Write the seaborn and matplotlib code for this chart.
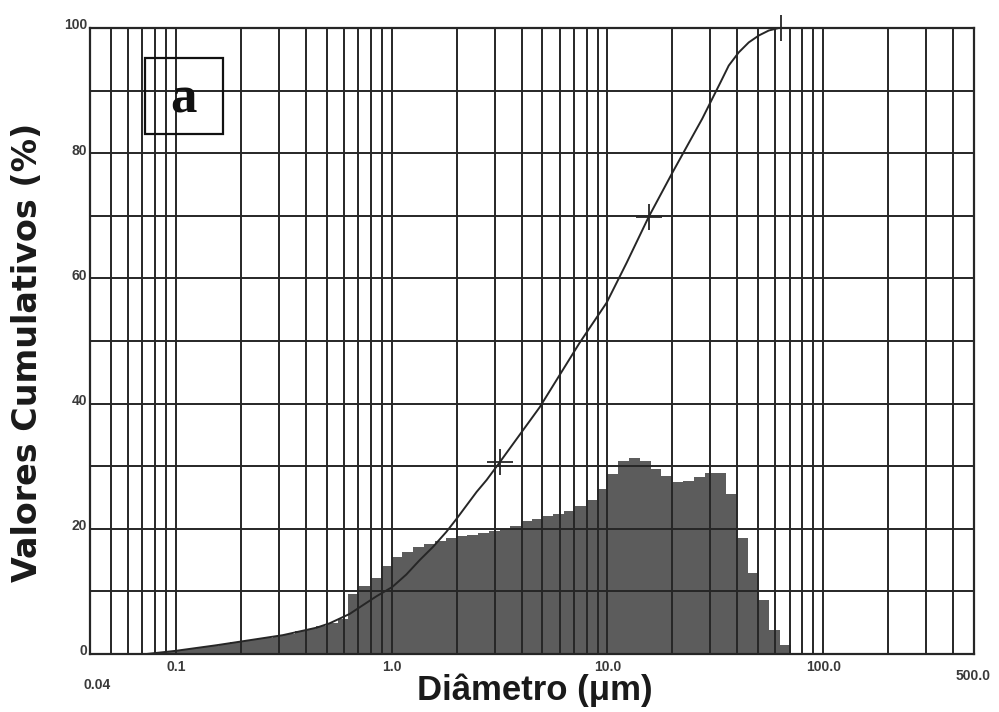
import numpy as np
import pandas as pd
import matplotlib
matplotlib.use("Agg")
import matplotlib.pyplot as plt
import seaborn as sns
from matplotlib.ticker import FixedLocator, LogLocator, NullFormatter, FixedFormatter
from matplotlib.patches import Rectangle
from matplotlib.transforms import ScaledTranslation

# Size classes: limits in log10(µm), 20 classes per decade
class_edges_log = [round(v, 3) for v in np.arange(-1.15, 1.8501, 0.05)]

# Differential volume per class (%)
class_freq = [
    0.1, 0.3, 0.45, 0.6, 0.8, 1.1, 1.35, 1.6, 1.85, 2.1,
    2.35, 2.6, 2.9, 3.25, 3.6, 4.05, 4.5, 4.9, 5.6, 9.6,
    10.8, 12.1, 14.0, 15.5, 16.3, 17.1, 17.5, 18.0, 18.5, 18.8,
    19.0, 19.3, 19.6, 20.0, 20.5, 21.2, 21.6, 22.0, 22.4, 22.9,
    23.6, 24.6, 26.3, 28.8, 30.8, 31.3, 30.8, 29.6, 28.4, 27.5,
    27.7, 28.3, 28.9, 28.9, 25.5, 18.6, 12.9, 8.6, 3.8, 1.5,
]

# Cumulative curve
cum_diam = [0.0732, 0.0998, 0.1546, 0.2198, 0.3126, 0.4489, 0.516, 0.639,
            0.736, 0.849, 1.007, 1.17, 1.349, 1.554, 1.792, 2.0, 2.477,
            2.756, 3.165, 4.85, 7.43, 9.91, 12.28, 15.52, 19.94, 23.8, 27.5,
            30.0, 33.4, 36.5, 40.6, 45.2, 50.3, 56.0, 62.3]
cum_value = [0.0, 0.5, 1.4, 2.2, 3.0, 4.2, 4.9, 6.4,
             7.8, 9.2, 10.7, 12.7, 15.0, 17.1, 19.5, 21.6, 25.9,
             27.8, 30.6, 39.4, 49.7, 56.1, 62.5, 69.8, 76.8, 81.6, 85.5,
             88.1, 91.3, 94.0, 96.1, 97.7, 98.8, 99.6, 100.0]

# Reference points marked on the curve
mark_diam = [3.165, 15.52, 64.0]
mark_value = [30.6, 69.8, 100.0]

x_ticks = [0.04, 0.1, 1.0, 10.0, 100.0, 500.0]
x_tick_labels = ["0.04", "0.1", "1.0", "10.0", "100.0", "500.0"]
y_ticks = [0, 20, 40, 60, 80, 100]

sns.set_style("white")
plt.rcParams["font.family"] = ["Liberation Sans", "DejaVu Sans"]

INK = "#262626"
FILL = "#5c5c5c"

fig = plt.figure(figsize=(9.99, 7.12), dpi=100)
ax = fig.add_axes([0.0901, 0.0815, 0.8849, 0.8792])
ax.set_xscale("log")

centers = [10 ** (e + 0.025) for e in class_edges_log[:-1]]
hist_df = pd.DataFrame({"diam": centers, "freq": class_freq})
sns.histplot(data=hist_df, x="diam", weights="freq", bins=class_edges_log,
             element="step", fill=True, color=FILL, alpha=1.0, linewidth=0,
             ax=ax, zorder=1)

cum_df = pd.DataFrame({"diam": cum_diam, "cum": cum_value})
sns.lineplot(data=cum_df, x="diam", y="cum", sort=False, estimator=None,
             color=INK, linewidth=1.4, ax=ax, zorder=4)

sns.scatterplot(x=mark_diam, y=mark_value, marker="+", s=330, color=INK,
                linewidth=1.3, ax=ax, zorder=5, clip_on=False)

ax.set_xlim(0.04, 500)
ax.set_ylim(0, 100)

# grid: every 1-9 multiple on x, every 10 % on y
ax.xaxis.set_major_locator(FixedLocator(x_ticks))
ax.xaxis.set_major_formatter(FixedFormatter(x_tick_labels))
ax.xaxis.set_minor_locator(LogLocator(base=10, subs=np.arange(1, 10), numticks=20))
ax.xaxis.set_minor_formatter(NullFormatter())
ax.yaxis.set_major_locator(FixedLocator(y_ticks))
ax.yaxis.set_minor_locator(FixedLocator([10, 30, 50, 70, 90]))
ax.set_axisbelow(False)
ax.grid(which="minor", axis="x", color=INK, linewidth=1.4)
ax.grid(which="major", axis="x", color=INK, linewidth=1.4)
ax.grid(which="both", axis="y", color=INK, linewidth=1.4)

ax.tick_params(which="both", length=0)
ax.tick_params(axis="x", pad=4)
ax.tick_params(axis="y", pad=2)
for lab in ax.get_xticklabels() + ax.get_yticklabels():
    lab.set_fontsize(10)
    lab.set_fontweight("bold")
    lab.set_color("#3a3a3a")

# the end labels of the diameter scale sit lower than the decade labels
xlabs = ax.get_xticklabels()
xlabs[0].set_transform(xlabs[0].get_transform() + ScaledTranslation(5 / 72, -13 / 72, fig.dpi_scale_trans))
xlabs[-1].set_transform(xlabs[-1].get_transform() + ScaledTranslation(-1 / 72, -7 / 72, fig.dpi_scale_trans))
ylabs = ax.get_yticklabels()
for lab in ylabs:
    lab.set_transform(lab.get_transform() + ScaledTranslation(0, 3 / 72, fig.dpi_scale_trans))

for sp in ax.spines.values():
    sp.set_color(INK)
    sp.set_linewidth(1.6)

ax.set_xlabel("")
ax.set_ylabel("")
fig.text(535 / 999, 1 - 690 / 712, "Diâmetro (μm)", ha="center", va="center",
         fontsize=25, fontweight="bold", color="#1a1a1a")
fig.text(28 / 999, 1 - 352 / 712, "Valores Cumulativos (%)", ha="center", va="center",
         rotation=90, fontsize=24, fontweight="bold", color="#1a1a1a",
         family=["DejaVu Sans"])

# panel tag
ax.add_patch(Rectangle((0.062, 0.831), 0.088, 0.121, transform=ax.transAxes,
                       fill=False, edgecolor="#111111", linewidth=1.6, zorder=6))
ax.text(0.106, 0.885, "a", transform=ax.transAxes, ha="center", va="center",
        fontsize=38, fontweight="bold", family=["Liberation Serif", "DejaVu Serif"],
        color="#111111", zorder=6)

fig.savefig("out.png", dpi=100, facecolor="white")
